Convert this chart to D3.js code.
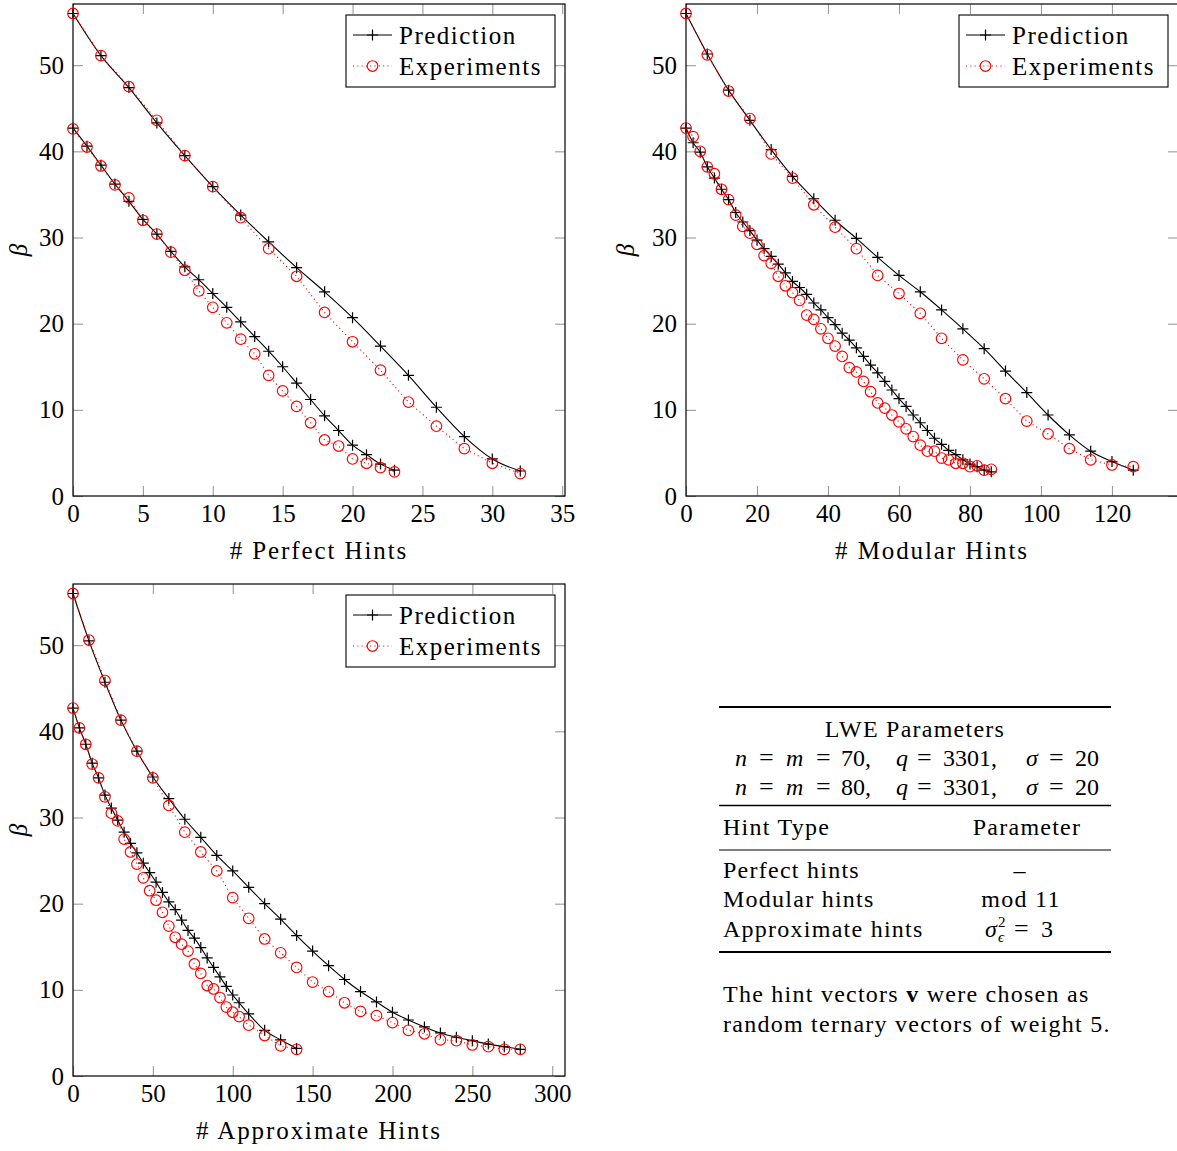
<!DOCTYPE html>
<html>
<head>
<meta charset="utf-8">
<script src="https://cdn.jsdelivr.net/npm/d3@7"></script>
<style>
  html, body { margin: 0; padding: 0; background: #fff; }
  svg { display: block; }
  text { font-family: "Liberation Serif", "DejaVu Serif", serif; fill: #000; }
</style>
</head>
<body>
<svg id="chart" width="1177" height="1151"></svg>
<script>
// ---------- DATA ----------
const yTicks = [0, 10, 20, 30, 40, 50];
const legendLabels = ["Prediction", "Experiments"];

// Perfect hints
const perfectTicks = [0, 5, 10, 15, 20, 25, 30, 35];
const perfect80X = [0, 2, 4, 6, 8, 10, 12, 14, 16, 18, 20, 22, 24, 26, 28, 30, 32];
const perfect80Pred = [56.0, 51.1, 47.4, 43.3, 39.5, 35.9, 32.6, 29.5, 26.5, 23.7, 20.7, 17.4, 14.0, 10.3, 6.9, 4.3, 2.9];
const perfect80Exp = [56.0, 51.1, 47.5, 43.6, 39.5, 35.9, 32.3, 28.7, 25.5, 21.3, 17.9, 14.6, 10.9, 8.1, 5.5, 3.8, 2.6];
const perfect70X = [0, 1, 2, 3, 4, 5, 6, 7, 8, 9, 10, 11, 12, 13, 14, 15, 16, 17, 18, 19, 20, 21, 22, 23];
const perfect70Pred = [42.7, 40.6, 38.4, 36.2, 34.2, 32.1, 30.4, 28.4, 26.6, 25.1, 23.5, 21.9, 20.2, 18.5, 16.8, 15.0, 13.1, 11.2, 9.3, 7.6, 5.9, 4.8, 3.7, 3.0];
const perfect70Exp = [42.6, 40.5, 38.3, 36.1, 34.6, 32.0, 30.4, 28.3, 26.2, 23.8, 21.9, 20.1, 18.2, 16.5, 14.0, 12.2, 10.4, 8.5, 6.5, 5.8, 4.3, 3.8, 3.3, 2.8];

// Modular hints
const modularTicks = [0, 20, 40, 60, 80, 100, 120];
const modular80X = [0, 6, 12, 18, 24, 30, 36, 42, 48, 54, 60, 66, 72, 78, 84, 90, 96, 102, 108, 114, 120, 126];
const modular80Pred = [56.0, 51.3, 47.1, 43.6, 40.2, 37.1, 34.5, 32.0, 29.9, 27.7, 25.6, 23.7, 21.6, 19.4, 17.1, 14.5, 12.0, 9.4, 7.1, 5.2, 4.0, 3.0];
const modular80Exp = [56.0, 51.2, 47.0, 43.8, 39.7, 36.9, 33.8, 31.2, 28.7, 25.6, 23.5, 21.2, 18.3, 15.8, 13.6, 11.3, 8.7, 7.2, 5.5, 4.2, 3.6, 3.4];
const modular70X = [0, 2, 4, 6, 8, 10, 12, 14, 16, 18, 20, 22, 24, 26, 28, 30, 32, 34, 36, 38, 40, 42, 44, 46, 48, 50, 52, 54, 56, 58, 60, 62, 64, 66, 68, 70, 72, 74, 76, 78, 80, 82, 84, 86];
const modular70Pred = [42.7, 41.0, 39.9, 38.2, 36.9, 35.6, 34.4, 32.9, 31.8, 30.8, 29.7, 28.7, 27.8, 26.9, 25.9, 24.9, 24.2, 23.4, 22.4, 21.6, 20.7, 19.9, 18.9, 18.1, 17.2, 16.2, 15.2, 14.3, 13.3, 12.3, 11.3, 10.4, 9.4, 8.5, 7.6, 6.7, 6.0, 5.3, 4.8, 4.2, 3.7, 3.4, 3.0, 2.8];
const modular70Exp = [42.7, 41.7, 40.0, 38.2, 37.4, 35.6, 34.4, 32.6, 31.3, 30.5, 29.2, 27.9, 27.0, 25.5, 24.4, 23.6, 22.7, 21.0, 20.5, 19.4, 18.3, 17.4, 16.2, 14.9, 14.4, 13.3, 12.1, 10.8, 10.2, 9.4, 8.6, 7.8, 6.9, 5.9, 5.2, 5.2, 4.4, 4.2, 3.8, 3.8, 3.4, 3.5, 3.0, 3.1];

// Approximate hints
const approxTicks = [0, 50, 100, 150, 200, 250, 300];
const approx80X = [0, 10, 20, 30, 40, 50, 60, 70, 80, 90, 100, 110, 120, 130, 140, 150, 160, 170, 180, 190, 200, 210, 220, 230, 240, 250, 260, 270, 280];
const approx80Pred = [56.0, 50.5, 45.7, 41.3, 37.7, 34.7, 32.2, 29.8, 27.7, 25.6, 23.8, 21.9, 20.0, 18.2, 16.3, 14.5, 12.8, 11.2, 9.8, 8.6, 7.4, 6.5, 5.7, 5.0, 4.5, 4.1, 3.7, 3.4, 3.1];
const approx80Exp = [56.0, 50.6, 45.9, 41.3, 37.7, 34.6, 31.4, 28.3, 26.0, 23.8, 20.7, 18.3, 15.9, 14.3, 12.6, 10.9, 9.8, 8.5, 7.5, 7.0, 6.2, 5.3, 4.9, 4.2, 4.1, 3.6, 3.4, 3.1, 3.1];
const approx70X = [0, 4, 8, 12, 16, 20, 24, 28, 32, 36, 40, 44, 48, 52, 56, 60, 64, 68, 72, 76, 80, 84, 88, 92, 96, 100, 104, 110, 120, 130, 140];
const approx70Pred = [42.7, 40.4, 38.5, 36.3, 34.6, 32.6, 31.1, 29.7, 28.3, 27.0, 25.9, 24.7, 23.6, 22.5, 21.3, 20.2, 19.3, 18.1, 16.9, 16.0, 14.9, 13.7, 12.6, 11.5, 10.4, 9.4, 8.5, 7.2, 5.3, 4.2, 3.2];
const approx70Exp = [42.7, 40.4, 38.5, 36.2, 34.6, 32.4, 30.5, 29.6, 27.5, 26.0, 24.6, 23.0, 21.5, 20.4, 19.0, 17.4, 16.1, 15.3, 14.5, 13.0, 11.9, 10.5, 10.1, 9.1, 8.0, 7.4, 6.9, 5.9, 4.7, 3.5, 3.1];

// ---------- DRAWING ----------
const svg = d3.select("#chart");
const FS = 25;
const TICKLEN = 10;
const zipXY = (xs, ys) => xs.map((x, i) => ({ x: x, y: ys[i] }));

function plusPath(s) { return `M${-s},0H${s}M0,${-s}V${s}`; }

function drawPanel(cfg) {
  const g = svg.append("g");
  const x = d3.scaleLinear().domain(cfg.xDomain).range([cfg.left, cfg.right]);
  const y = d3.scaleLinear().domain([0, 57.1]).range([cfg.bottom, cfg.top]);

  const styleAxis = (sel) => {
    sel.select(".domain").remove();
    sel.selectAll(".tick line").attr("stroke", "#9a9a9a").attr("stroke-width", 1.1);
    sel.selectAll(".tick text").attr("font-size", FS).attr("font-family", "Liberation Serif").attr("fill", "#000");
  };

  g.append("g").attr("transform", `translate(0,${cfg.bottom})`)
    .call(d3.axisBottom(x).tickValues(cfg.xTicks).tickSize(-TICKLEN).tickSizeOuter(0).tickPadding(8).tickFormat(d3.format("d")))
    .call(styleAxis);
  g.append("g").attr("transform", `translate(0,${cfg.top})`)
    .call(d3.axisTop(x).tickValues(cfg.xTicks).tickSize(-TICKLEN).tickSizeOuter(0).tickFormat(""))
    .call(styleAxis);
  g.append("g").attr("transform", `translate(${cfg.left},0)`)
    .call(d3.axisLeft(y).tickValues(yTicks).tickSize(-TICKLEN).tickSizeOuter(0).tickPadding(9).tickFormat(d3.format("d")))
    .call(styleAxis);
  g.append("g").attr("transform", `translate(${cfg.right},0)`)
    .call(d3.axisRight(y).tickValues(yTicks).tickSize(-TICKLEN).tickSizeOuter(0).tickFormat(""))
    .call(styleAxis);

  // frame
  g.append("rect").attr("x", cfg.left).attr("y", cfg.top)
    .attr("width", cfg.right - cfg.left).attr("height", cfg.bottom - cfg.top)
    .attr("fill", "none").attr("stroke", "#000").attr("stroke-width", 1.2);

  const predLine = d3.line().x(d => x(d.x)).y(d => y(d.y)).curve(d3.curveMonotoneX);
  const expLine = d3.line().x(d => x(d.x)).y(d => y(d.y));

  cfg.series.forEach(s => {
    const pd = zipXY(s.x, s.pred);
    const ed = zipXY(s.x, s.exp);
    g.append("path").datum(pd).attr("d", predLine)
      .attr("fill", "none").attr("stroke", "#000").attr("stroke-width", 1.1);
    g.append("g").selectAll("path").data(pd).join("path")
      .attr("transform", d => `translate(${x(d.x)},${y(d.y)})`)
      .attr("d", plusPath(5.5)).attr("stroke", "#000").attr("stroke-width", 1.2).attr("fill", "none");
    g.append("path").datum(ed).attr("d", expLine)
      .attr("fill", "none").attr("stroke", "#ff0000").attr("stroke-width", 1.1)
      .attr("stroke-dasharray", "1.1,3.2");
    g.append("g").selectAll("circle").data(ed).join("circle")
      .attr("cx", d => x(d.x)).attr("cy", d => y(d.y)).attr("r", 5.3)
      .attr("fill", "none").attr("stroke", "#ff0000").attr("stroke-width", 1.15);
  });

  // axis labels
  g.append("text").attr("x", (cfg.left + cfg.right) / 2).attr("y", cfg.bottom + 63)
    .attr("text-anchor", "middle").attr("font-size", FS).attr("letter-spacing", 1.9).text(cfg.xLabel);
  g.append("text").attr("transform", `translate(${cfg.left - cfg.betaOff},${(cfg.top + cfg.bottom) / 2}) rotate(-90)`)
    .attr("text-anchor", "middle").attr("font-size", FS).attr("font-style", "italic").text("β");

  // legend
  const lx = Math.min(cfg.right, 1178) - 10 - 209, ly = cfg.top + 11;
  const lg = g.append("g").attr("transform", `translate(${lx},${ly})`);
  lg.append("rect").attr("width", 209).attr("height", 72).attr("fill", "#fff")
    .attr("stroke", "#000").attr("stroke-width", 1.1);
  lg.append("line").attr("x1", 7).attr("x2", 46).attr("y1", 20).attr("y2", 20)
    .attr("stroke", "#000").attr("stroke-width", 1.1);
  lg.append("path").attr("transform", "translate(26.5,20)").attr("d", plusPath(5.5))
    .attr("stroke", "#000").attr("stroke-width", 1.2);
  lg.append("line").attr("x1", 7).attr("x2", 46).attr("y1", 51).attr("y2", 51)
    .attr("stroke", "#ff0000").attr("stroke-width", 1.1).attr("stroke-dasharray", "1.1,3.2");
  lg.append("circle").attr("cx", 26.5).attr("cy", 51).attr("r", 5.3)
    .attr("fill", "none").attr("stroke", "#ff0000").attr("stroke-width", 1.15);
  lg.append("text").attr("x", 53).attr("y", 28.5).attr("font-size", FS).attr("letter-spacing", 1.5).text(legendLabels[0]);
  lg.append("text").attr("x", 53).attr("y", 59.5).attr("font-size", FS).attr("letter-spacing", 1.5).text(legendLabels[1]);
}

drawPanel({
  xDomain: [0, 35.2], left: 73, right: 565, top: 4, bottom: 496,
  xTicks: perfectTicks, xLabel: "# Perfect Hints", betaOff: 46,
  series: [
    { x: perfect80X, pred: perfect80Pred, exp: perfect80Exp },
    { x: perfect70X, pred: perfect70Pred, exp: perfect70Exp }
  ]
});
drawPanel({
  xDomain: [0, 138.6], left: 686, right: 1178, top: 4, bottom: 496,
  xTicks: modularTicks, xLabel: "# Modular Hints", betaOff: 52,
  series: [
    { x: modular80X, pred: modular80Pred, exp: modular80Exp },
    { x: modular70X, pred: modular70Pred, exp: modular70Exp }
  ]
});
drawPanel({
  xDomain: [0, 308], left: 73, right: 565, top: 584, bottom: 1076,
  xTicks: approxTicks, xLabel: "# Approximate Hints", betaOff: 46,
  series: [
    { x: approx80X, pred: approx80Pred, exp: approx80Exp },
    { x: approx70X, pred: approx70Pred, exp: approx70Exp }
  ]
});

// ---------- TABLE ----------
const TF = 24;
const LS = 1.25;
const t = svg.append("g");
const rule = (yy, w) => t.append("line").attr("x1", 719).attr("x2", 1111).attr("y1", yy).attr("y2", yy)
  .attr("stroke", "#000").attr("stroke-width", w);
rule(707, 2.2); rule(805.5, 1.6); rule(850, 1.2); rule(952, 2.2);

const txt = (xx, yy, anchor) => t.append("text").attr("x", xx).attr("y", yy)
  .attr("font-size", TF).attr("letter-spacing", LS).attr("text-anchor", anchor || "start");

txt(915, 737, "middle").text("LWE Parameters");

const paramTokens = [
  ["n", 735, true], ["=", 759, false], ["m", 786, true], ["=", 816, false], ["NUM", 841, false],
  ["q", 896, true], ["=", 917, false], ["3301,", 943, false],
  ["σ", 1026, true], ["=", 1049, false], ["20", 1075, false]
];
function paramRow(yy, nval) {
  paramTokens.forEach(([tok, xx, it]) => {
    const e = t.append("text").attr("x", xx).attr("y", yy).attr("font-size", TF)
      .text(tok === "NUM" ? nval + "," : tok);
    if (it) e.attr("font-style", "italic");
    if (tok === "=") e.attr("font-size", TF + 2);
  });
}
paramRow(766, "70");
paramRow(795, "80");

txt(723, 835).text("Hint Type");
txt(1027, 835, "middle").text("Parameter");
txt(723, 878).text("Perfect hints");
txt(1020, 878, "middle").text("–");
txt(723, 907).text("Modular hints");
txt(1021, 907, "middle").text("mod 11");
txt(723, 937).text("Approximate hints");
t.append("text").attr("x", 985).attr("y", 937).attr("font-size", TF).attr("font-style", "italic").text("σ");
t.append("text").attr("x", 998).attr("y", 927).attr("font-size", 15).text("2");
t.append("text").attr("x", 998).attr("y", 942).attr("font-size", 15).attr("font-style", "italic").text("ϵ");
t.append("text").attr("x", 1014).attr("y", 937).attr("font-size", TF + 2).text("=");
t.append("text").attr("x", 1041).attr("y", 937).attr("font-size", TF).text("3");

const n1 = txt(723, 1002);
n1.append("tspan").text("The hint vectors ");
n1.append("tspan").attr("font-weight", "bold").text("v");
n1.append("tspan").text(" were chosen as");
txt(723, 1032).text("random ternary vectors of weight 5.");
</script>
</body>
</html>
